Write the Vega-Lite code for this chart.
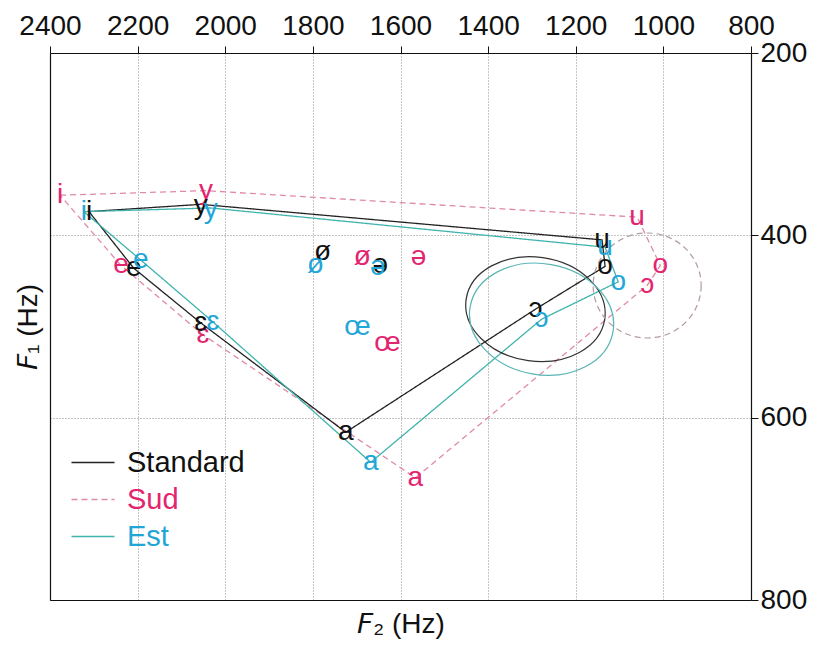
{
  "$schema": "https://vega.github.io/schema/vega-lite/v6.json",
  "width": 701,
  "height": 547,
  "autosize": {"type": "none"},
  "padding": {"left": 50, "top": 53, "right": 63, "bottom": 53},
  "background": "white",
  "config": {"view": {"stroke": null}, "font": "Liberation Sans"},
  "datasets": {
    "vowels": [
      {"series": "Sud", "vowel": "i", "F2": 2377, "F1": 356},
      {"series": "Sud", "vowel": "y", "F2": 2044, "F1": 351},
      {"series": "Sud", "vowel": "u", "F2": 1060, "F1": 380},
      {"series": "Sud", "vowel": "o", "F2": 1007, "F1": 433},
      {"series": "Sud", "vowel": "ɔ", "F2": 1037, "F1": 455},
      {"series": "Sud", "vowel": "a", "F2": 1566, "F1": 666},
      {"series": "Sud", "vowel": "ɛ", "F2": 2051, "F1": 509},
      {"series": "Sud", "vowel": "e", "F2": 2238, "F1": 433},
      {"series": "Sud", "vowel": "ø", "F2": 1687, "F1": 424},
      {"series": "Sud", "vowel": "ə", "F2": 1559, "F1": 424},
      {"series": "Sud", "vowel": "œ", "F2": 1630, "F1": 518},
      {"series": "Standard", "vowel": "i", "F2": 2311, "F1": 374},
      {"series": "Standard", "vowel": "y", "F2": 2056, "F1": 368},
      {"series": "Standard", "vowel": "u", "F2": 1140, "F1": 405},
      {"series": "Standard", "vowel": "o", "F2": 1133, "F1": 434},
      {"series": "Standard", "vowel": "ɔ", "F2": 1292, "F1": 481},
      {"series": "Standard", "vowel": "a", "F2": 1725, "F1": 616},
      {"series": "Standard", "vowel": "ɛ", "F2": 2056, "F1": 496},
      {"series": "Standard", "vowel": "e", "F2": 2209, "F1": 436},
      {"series": "Standard", "vowel": "ø", "F2": 1778, "F1": 418},
      {"series": "Standard", "vowel": "ə", "F2": 1646, "F1": 433},
      {"series": "Est", "vowel": "i", "F2": 2323, "F1": 374},
      {"series": "Est", "vowel": "y", "F2": 2033, "F1": 372},
      {"series": "Est", "vowel": "u", "F2": 1133, "F1": 413},
      {"series": "Est", "vowel": "o", "F2": 1103, "F1": 451},
      {"series": "Est", "vowel": "ɔ", "F2": 1278, "F1": 492},
      {"series": "Est", "vowel": "a", "F2": 1668, "F1": 649},
      {"series": "Est", "vowel": "ɛ", "F2": 2028, "F1": 495},
      {"series": "Est", "vowel": "e", "F2": 2193, "F1": 427},
      {"series": "Est", "vowel": "ø", "F2": 1794, "F1": 433},
      {"series": "Est", "vowel": "ə", "F2": 1652, "F1": 435},
      {"series": "Est", "vowel": "œ", "F2": 1698, "F1": 501}
    ],
    "polygon": [
      {"series": "Sud", "k": 1, "F2": 2377, "F1": 356},
      {"series": "Sud", "k": 2, "F2": 2044, "F1": 351},
      {"series": "Sud", "k": 3, "F2": 1060, "F1": 380},
      {"series": "Sud", "k": 4, "F2": 1007, "F1": 433},
      {"series": "Sud", "k": 5, "F2": 1037, "F1": 455},
      {"series": "Sud", "k": 6, "F2": 1566, "F1": 666},
      {"series": "Sud", "k": 7, "F2": 2051, "F1": 509},
      {"series": "Sud", "k": 8, "F2": 2238, "F1": 433},
      {"series": "Sud", "k": 9, "F2": 2377, "F1": 356},
      {"series": "Standard", "k": 1, "F2": 2311, "F1": 374},
      {"series": "Standard", "k": 2, "F2": 2056, "F1": 366},
      {"series": "Standard", "k": 3, "F2": 1140, "F1": 405},
      {"series": "Standard", "k": 4, "F2": 1133, "F1": 434},
      {"series": "Standard", "k": 5, "F2": 1292, "F1": 481},
      {"series": "Standard", "k": 6, "F2": 1725, "F1": 616},
      {"series": "Standard", "k": 7, "F2": 2056, "F1": 496},
      {"series": "Standard", "k": 8, "F2": 2209, "F1": 436},
      {"series": "Standard", "k": 9, "F2": 2311, "F1": 374},
      {"series": "Est", "k": 1, "F2": 2323, "F1": 374},
      {"series": "Est", "k": 2, "F2": 2033, "F1": 370},
      {"series": "Est", "k": 3, "F2": 1133, "F1": 413},
      {"series": "Est", "k": 4, "F2": 1103, "F1": 451},
      {"series": "Est", "k": 5, "F2": 1278, "F1": 492},
      {"series": "Est", "k": 6, "F2": 1668, "F1": 649},
      {"series": "Est", "k": 7, "F2": 2028, "F1": 495},
      {"series": "Est", "k": 8, "F2": 2193, "F1": 427},
      {"series": "Est", "k": 9, "F2": 2323, "F1": 374}
    ]
  },
  "layer": [
    {
      "data": {"name": "polygon"},
      "mark": {"type": "line", "strokeWidth": 1.3},
      "encoding": {
        "x": {"field": "F2", "type": "quantitative",
          "scale": {"domain": [800, 2400], "reverse": true, "nice": false, "zero": false},
          "axis": {"orient": "top", "title": null, "values": [2400, 2200, 2000, 1800, 1600, 1400, 1200, 1000, 800], "format": "d",
            "labelFontSize": 28, "labelColor": "#111", "labelPadding": 6, "labelFlush": false, "labelOverlap": false,
            "tickSize": 7, "tickColor": "#111", "domainColor": "#111", "domainWidth": 1.2,
            "grid": true, "gridDash": [1, 2], "gridColor": "#888", "gridWidth": 1}},
        "y": {"field": "F1", "type": "quantitative",
          "scale": {"domain": [200, 800], "reverse": true, "nice": false, "zero": false},
          "axis": {"orient": "right", "title": null, "values": [200, 400, 600, 800], "format": "d",
            "labelFontSize": 28, "labelColor": "#111", "labelPadding": 2, "labelFlush": false, "labelOverlap": false,
            "tickSize": 7, "tickColor": "#111", "domainColor": "#111", "domainWidth": 1.2,
            "grid": true, "gridDash": [1, 2], "gridColor": "#888", "gridWidth": 1}},
        "order": {"field": "k", "type": "quantitative"},
        "color": {"field": "series", "type": "nominal",
          "scale": {"domain": ["Standard", "Sud", "Est"], "range": ["#222222", "#e08aa6", "#3fb3ad"]},
          "legend": {"orient": "none", "legendX": 40, "legendY": 395, "title": null,
            "symbolType": "M-3.3,0H1", "symbolSize": 400, "symbolStrokeWidth": 1.3,
            "labelFontSize": 29, "labelOffset": 8, "rowPadding": 7, "labelLimit": 300,
            "encode": {"labels": {"update": {"fill": {"signal": "datum.value === 'Sud' ? '#e3246f' : datum.value === 'Est' ? '#22a6d8' : '#111111'"}}}}}},
        "strokeDash": {"field": "series", "type": "nominal",
          "scale": {"domain": ["Standard", "Sud", "Est"], "range": [[1, 0], [6, 4], [1, 0]]}}
      }
    },
    {
      "data": {"name": "vowels"},
      "transform": [{"filter": "datum.series === 'Standard' && datum.vowel === 'ɔ'"}],
      "mark": {"type": "point", "filled": false, "size": 10000, "angle": 8, "stroke": "#333333", "strokeWidth": 1.2, "opacity": 1,
        "shape": "M1.4,0C1.4,0.5744,0.7732,1.04,0,1.04C-0.7732,1.04,-1.4,0.5744,-1.4,0C-1.4,-0.5744,-0.7732,-1.04,0,-1.04C0.7732,-1.04,1.4,-0.5744,1.4,0Z"},
      "encoding": {
        "x": {"field": "F2", "type": "quantitative", "axis": null},
        "y": {"field": "F1", "type": "quantitative", "axis": null}
      }
    },
    {
      "data": {"name": "vowels"},
      "transform": [{"filter": "datum.series === 'Est' && datum.vowel === 'ɔ'"}],
      "mark": {"type": "point", "filled": false, "size": 10000, "angle": 10, "stroke": "#5ab5b5", "strokeWidth": 1.2, "opacity": 1,
        "shape": "M1.45,0C1.45,0.6131,0.8008,1.11,0,1.11C-0.8008,1.11,-1.45,0.6131,-1.45,0C-1.45,-0.6131,-0.8008,-1.11,0,-1.11C0.8008,-1.11,1.45,-0.6131,1.45,0Z"},
      "encoding": {
        "x": {"field": "F2", "type": "quantitative", "axis": null},
        "y": {"field": "F1", "type": "quantitative", "axis": null}
      }
    },
    {
      "data": {"name": "vowels"},
      "transform": [{"filter": "datum.series === 'Sud' && datum.vowel === 'ɔ'"}],
      "mark": {"type": "point", "filled": false, "size": 10000, "angle": 0, "stroke": "#b09aa4", "strokeWidth": 1.2, "strokeDash": [6, 4], "opacity": 1,
        "shape": "M1.08,0C1.08,0.5799,0.5965,1.05,0,1.05C-0.5965,1.05,-1.08,0.5799,-1.08,0C-1.08,-0.5799,-0.5965,-1.05,0,-1.05C0.5965,-1.05,1.08,-0.5799,1.08,0Z"},
      "encoding": {
        "x": {"field": "F2", "type": "quantitative", "axis": null},
        "y": {"field": "F1", "type": "quantitative", "axis": null}
      }
    },
    {
      "data": {"name": "vowels"},
      "mark": {"type": "text", "fontSize": 28, "align": "center", "baseline": "middle", "font": "Liberation Sans, DejaVu Sans"},
      "encoding": {
        "x": {"field": "F2", "type": "quantitative",
          "axis": {"orient": "bottom", "title": "𝘍₂ (Hz)", "labels": false, "ticks": false, "grid": false,
            "titleFontSize": 28, "titleFontWeight": "normal", "titleColor": "#111", "titlePadding": 10,
            "domainColor": "#111", "domainWidth": 1.2}},
        "y": {"field": "F1", "type": "quantitative",
          "axis": {"orient": "left", "title": "𝘍₁ (Hz)", "labels": false, "ticks": false, "grid": false,
            "titleFontSize": 28, "titleFontWeight": "normal", "titleColor": "#111", "titlePadding": 8,
            "domainColor": "#111", "domainWidth": 1.2}},
        "text": {"field": "vowel", "type": "nominal"},
        "fill": {"field": "series", "type": "nominal",
          "scale": {"domain": ["Standard", "Sud", "Est"], "range": ["#111111", "#e3246f", "#22a6d8"]},
          "legend": null}
      }
    }
  ],
  "resolve": {"axis": {"x": "independent", "y": "independent"}}
}
